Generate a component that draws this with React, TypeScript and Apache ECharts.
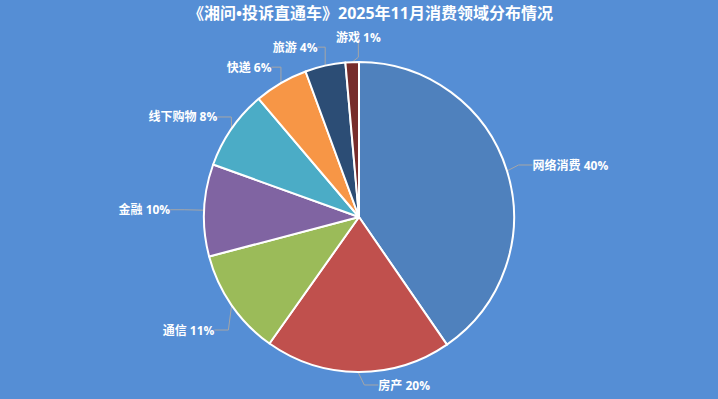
import React, { useEffect, useRef } from "react";
import * as echarts from "echarts";

const categories = ["网络消费", "房产", "通信", "金融", "线下购物", "快递", "旅游", "游戏"];
const values = [40.4, 19.4, 11.1, 9.6, 8.3, 5.6, 4.2, 1.4];
const labelPercents = ["40%", "20%", "11%", "10%", "8%", "6%", "4%", "1%"];
const colors = ["#4F81BD", "#C0504D", "#9BBB59", "#8064A2", "#4BACC6", "#F79646", "#2C4D75", "#772C2A"];
const titleText = "《湘问•投诉直通车》2025年11月消费领域分布情况";

// label nudges (dx, dy) in px, style only
const labelShiftX = [-3, 91, 5, -10, 8, 19, 40, 48];
const labelShiftY = [-3, 3, 19, 0, -6, -13, -19, -15];

const FONT = "'Open Sans', 'Noto Sans CJK SC', sans-serif";

export default function App() {
  const ref = useRef<HTMLDivElement>(null);
  useEffect(() => {
    const chart = echarts.init(ref.current!, null, { renderer: "svg" });
    chart.setOption({
      animation: false,
      backgroundColor: "#558ED5",
      title: {
        text: titleText,
        left: 183,
        top: 0,
        textStyle: {
          color: "#FFFFFF",
          fontSize: 16,
          fontWeight: "bold",
          fontFamily: FONT,
        },
      },
      series: [
        {
          type: "pie",
          center: [359, 217],
          radius: 155,
          startAngle: 90,
          clockwise: true,
          avoidLabelOverlap: true,
          data: categories.map((name, i) => ({
            name,
            value: values[i],
            itemStyle: { color: colors[i] },
          })),
          itemStyle: { borderColor: "#FFFFFF", borderWidth: 2 },
          label: {
            show: true,
            formatter: (p: any) => `${p.name} ${labelPercents[p.dataIndex]}`,
            color: "#FFFFFF",
            fontSize: 12,
            fontWeight: "bold",
            fontFamily: FONT,
          },
          labelLine: {
            show: true,
            length: 10,
            length2: 14,
            lineStyle: { color: "#A6A6A6", width: 1 },
          },
          labelLayout: (p: any) => ({
            x: p.labelRect.x + labelShiftX[p.dataIndex],
            y: p.labelRect.y + labelShiftY[p.dataIndex],
            align: "left",
            verticalAlign: "top",
          }),
        },
      ],
    });
    return () => chart.dispose();
  }, []);
  return (
    <div
      ref={ref}
      style={{ width: 718, height: 399, position: "absolute", left: 0, top: 0 }}
    />
  );
}
